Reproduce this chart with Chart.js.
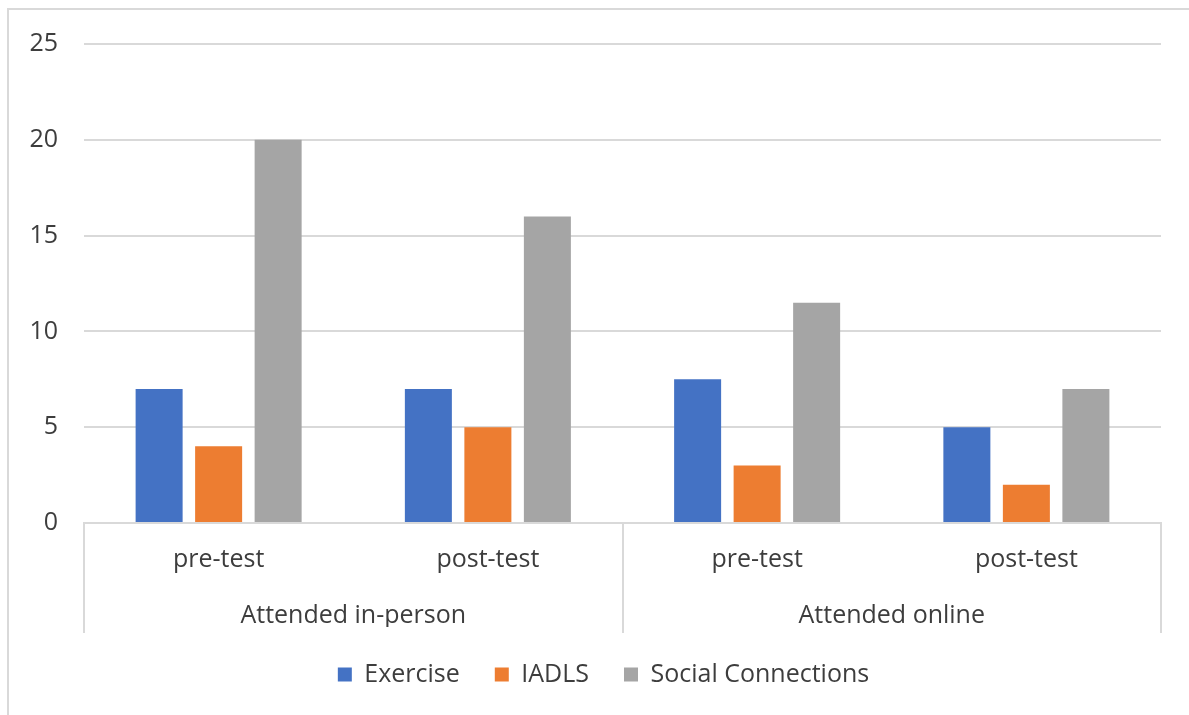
<!DOCTYPE html>
<html>
<head>
<meta charset="utf-8">
<script src="https://cdn.jsdelivr.net/npm/chart.js@4/dist/chart.umd.min.js"></script>
<style>
  html, body { margin: 0; padding: 0; background: #fff; }
  #wrap { position: relative; width: 1189px; height: 715px; overflow: hidden; }
  #frame { position: absolute; left: 7px; top: 8px; right: -10px; bottom: -10px;
           border-top: 2px solid #d9d9d9; border-left: 2px solid #d9d9d9; }
  canvas { position: absolute; left: 0; top: 0; }
</style>
</head>
<body>
<div id="wrap">
  <div id="frame"></div>
  <canvas id="c" width="1189" height="715"></canvas>
</div>
<script>
// Test phase for each bar group, and the attendance mode they belong to
const phases = ['pre-test', 'post-test', 'pre-test', 'post-test'];
const groups = ['Attended in-person', 'Attended online'];

// Scores per outcome, in phase order
const exercise = [7, 7, 7.5, 5];
const iadls = [4, 5, 3, 2];
const social = [20, 16, 11.5, 7];

// Value axis ticks
const yTicks = [0, 5, 10, 15, 20, 25];

const GRID = '#d9d9d9';
const TEXT = '#3d3d3d';
const FONT_SIZE = 25;

// Nudges the legend row a little to the right of the canvas centre
const legendShift = {
  id: 'legendShift',
  afterLayout(chart) {
    const lg = chart.legend;
    if (lg) { lg.left += 18; lg.right += 18; }
  }
};

function draw() {
  Chart.defaults.font.family = "'Open Sans', 'Noto Sans', sans-serif";
  Chart.defaults.font.size = FONT_SIZE;
  Chart.defaults.color = TEXT;

  new Chart(document.getElementById('c'), {
    type: 'bar',
    data: {
      labels: phases,
      datasets: [
        { label: 'Exercise', data: exercise, backgroundColor: '#4472C4' },
        { label: 'IADLS', data: iadls, backgroundColor: '#ED7D31' },
        { label: 'Social Connections', data: social, backgroundColor: '#A5A5A5' }
      ]
    },
    plugins: [legendShift],
    options: {
      responsive: false,
      animation: false,
      categoryPercentage: 0.663,
      barPercentage: 0.79,
      layout: { padding: { left: 10, right: 28, top: 44, bottom: 18 } },
      plugins: {
        tooltip: { enabled: false },
        legend: {
          position: 'bottom',
          labels: {
            boxWidth: 14,
            boxHeight: 14,
            padding: 35,
            color: TEXT,
            font: { size: FONT_SIZE }
          }
        }
      },
      scales: {
        y: {
          min: 0,
          max: 25,
          afterBuildTicks: s => { s.ticks = yTicks.map(v => ({ value: v })); },
          afterFit: s => { s.width = 74; },
          grid: { color: GRID, lineWidth: 2, drawTicks: false },
          border: { display: false },
          ticks: { padding: 26, color: TEXT, font: { size: FONT_SIZE } }
        },
        x: {
          position: 'bottom',
          afterFit: s => { s.height = 56; },
          grid: {
            offset: true,
            drawOnChartArea: false,
            drawTicks: true,
            tickLength: 110,
            lineWidth: 2,
            // dividers only at the outer edges and between the two attendance groups
            color: c => (c.index === 1 || c.index === 3) ? 'rgba(0,0,0,0)' : GRID
          },
          border: { display: true, color: GRID, width: 2 },
          ticks: { padding: -88, color: TEXT, font: { size: FONT_SIZE }, maxRotation: 0, autoSkip: false }
        },
        x2: {
          type: 'category',
          position: 'bottom',
          labels: groups,
          offset: true,
          afterFit: s => { s.height = 48; },
          grid: { display: false },
          border: { display: false },
          ticks: { padding: 14, color: TEXT, font: { size: FONT_SIZE }, maxRotation: 0, autoSkip: false }
        }
      }
    }
  });
}

if (document.fonts && document.fonts.load) {
  document.fonts.load(FONT_SIZE + 'px "Open Sans"').then(draw, draw);
} else {
  draw();
}
</script>
</body>
</html>
